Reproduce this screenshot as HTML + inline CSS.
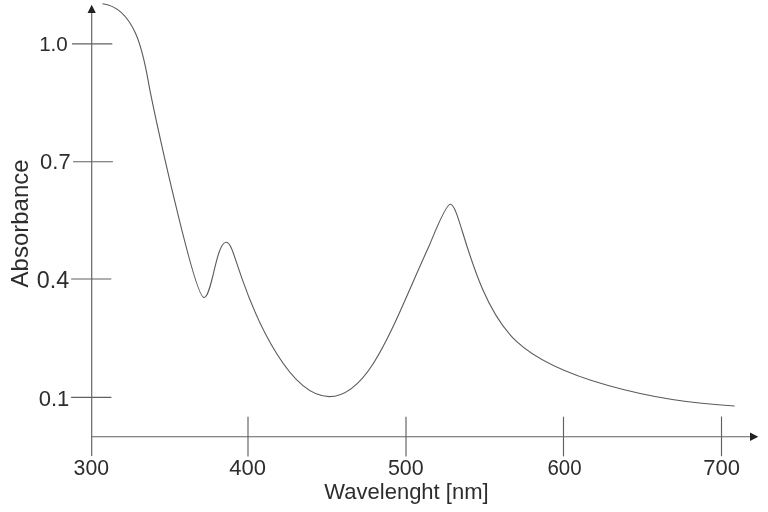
<!DOCTYPE html>
<html><head><meta charset="utf-8">
<style>
html,body{margin:0;padding:0;background:#fff;}
svg{display:block}
text{font-family:"Liberation Sans",sans-serif;font-size:22px;fill:#2d2d2d}
</style></head><body>
<svg width="768" height="512" viewBox="0 0 768 512">
<rect width="768" height="512" fill="#fff"/>
<g stroke="#606060" stroke-width="1.15" fill="none">
<line x1="91.7" y1="10" x2="91.7" y2="456"/>
<line x1="91.7" y1="436.7" x2="752" y2="436.7"/>
<line x1="72" y1="43.9" x2="112.3" y2="43.9"/>
<line x1="73.1" y1="161.7" x2="112.9" y2="161.7"/>
<line x1="71.1" y1="279" x2="111.3" y2="279"/>
<line x1="71.1" y1="397.3" x2="111.4" y2="397.3"/>
<line x1="248" y1="416.7" x2="248" y2="456.4"/>
<line x1="406" y1="416.7" x2="406" y2="456.4"/>
<line x1="563.5" y1="416.7" x2="563.5" y2="456.4"/>
<line x1="721.5" y1="416.5" x2="721.5" y2="456.2"/>
</g>
<polygon points="91.7,4.8 87.6,13 95.8,13" fill="#222"/>
<polygon points="758.3,436.7 750,432.5 750,440.9" fill="#222"/>
<path id="curve" d="M102.40,3.70 C139.12,8.31 145.05,66.10 149.94,90.27 C154.96,115.09 194.37,297.60 204.00,297.60 C211.87,297.60 216.06,242.30 226.20,242.30 C230.92,242.30 233.67,254.84 242.20,279.17 C257.07,321.61 290.50,396.60 329.10,396.60 C370.08,396.60 393.48,323.38 429.05,246.05 C431.39,240.95 445.29,204.30 450.40,204.30 C460.46,204.30 471.64,299.03 516.51,341.36 C554.81,377.50 650.04,401.53 734.70,406.00" stroke="#5c5c5c" stroke-width="1.12" fill="none"/>
<g text-anchor="end">
<text x="67.8" y="50.7" style="font-size:20.6px">1.0</text>
<text x="70.7" y="169">0.7</text>
<text x="69.1" y="287.9" style="font-size:23.3px">0.4</text>
<text x="69.3" y="406.3">0.1</text>
</g>
<g text-anchor="middle">
<text transform="translate(91.3,474.6) scale(0.965,1)">300</text>
<text x="247.6" y="475.2">400</text>
<text transform="translate(405.8,474.6) scale(0.975,1)">500</text>
<text transform="translate(564.5,475.2) scale(0.93,1)">600</text>
<text x="721.6" y="474.8">700</text>
<text x="406.5" y="498.8">Wavelenght [nm]</text>
<text transform="translate(28.1,223.4) rotate(-90)" style="font-size:24px">Absorbance</text>
</g>
</svg>
</body></html>
